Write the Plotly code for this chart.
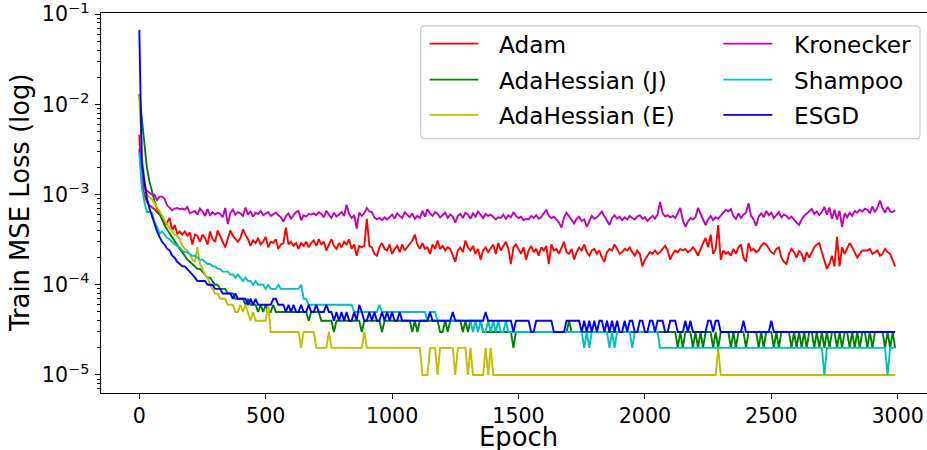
import plotly.graph_objects as go

# ---------------------------------------------------------------------------
# Training loss (MSE) logged every 10 epochs
# ---------------------------------------------------------------------------
epochs = list(range(0, 3000, 10))

adam = [
    4.6e-3, 1.3e-3, 1.0e-3, 8.3e-4, 7.6e-4, 7.3e-4, 6.9e-4, 6.4e-4, 6.0e-4, 5.8e-4,
    4.6e-4, 4.9e-4, 5.5e-4, 4.0e-4, 4.6e-4, 3.7e-4, 3.9e-4, 3.6e-4, 3.9e-4, 3.5e-4,
    3.8e-4, 2.8e-4, 3.6e-4, 3.5e-4, 3.0e-4, 3.6e-4, 3.3e-4, 2.8e-4, 3.9e-4, 3.2e-4,
    3.0e-4, 4.0e-4, 3.4e-4, 3.0e-4, 2.6e-4, 3.2e-4, 4.0e-4, 3.5e-4, 3.2e-4, 3.0e-4,
    3.3e-4, 4.1e-4, 3.6e-4, 3.2e-4, 2.7e-4, 3.1e-4, 2.9e-4, 3.3e-4, 2.8e-4, 3.0e-4,
    3.4e-4, 2.6e-4, 3.0e-4, 2.9e-4, 3.2e-4, 2.5e-4, 2.8e-4, 2.9e-4, 4.3e-4, 2.8e-4,
    3.0e-4, 2.7e-4, 2.9e-4, 2.5e-4, 2.9e-4, 2.7e-4, 3.0e-4, 2.6e-4, 2.9e-4, 3.1e-4,
    2.7e-4, 3.2e-4, 2.8e-4, 3.0e-4, 2.4e-4, 2.8e-4, 3.2e-4, 2.7e-4, 2.5e-4, 2.9e-4,
    2.6e-4, 3.0e-4, 2.8e-4, 3.2e-4, 2.5e-4, 2.8e-4, 2.1e-4, 2.7e-4, 2.6e-4, 2.7e-4,
    5.4e-4, 2.7e-4, 2.6e-4, 2.2e-4, 2.1e-4, 2.6e-4, 2.9e-4, 2.5e-4, 2.4e-4, 2.8e-4,
    2.2e-4, 2.5e-4, 2.7e-4, 2.3e-4, 2.8e-4, 2.4e-4, 2.6e-4, 2.9e-4, 3.1e-4, 3.6e-4,
    2.8e-4, 2.5e-4, 2.9e-4, 2.5e-4, 2.6e-4, 2.2e-4, 2.8e-4, 2.5e-4, 3.1e-4, 2.5e-4,
    2.7e-4, 2.4e-4, 2.6e-4, 2.5e-4, 2.1e-4, 1.8e-4, 2.4e-4, 2.6e-4, 2.3e-4, 3.1e-4,
    2.6e-4, 2.4e-4, 2.7e-4, 2.2e-4, 2.5e-4, 1.9e-4, 2.4e-4, 2.6e-4, 2.3e-4, 2.5e-4,
    2.8e-4, 2.2e-4, 2.9e-4, 2.4e-4, 2.7e-4, 3.0e-4, 2.5e-4, 1.7e-4, 2.6e-4, 2.8e-4,
    2.5e-4, 2.2e-4, 2.6e-4, 1.9e-4, 2.4e-4, 2.7e-4, 2.3e-4, 2.5e-4, 2.1e-4, 2.6e-4,
    2.4e-4, 2.7e-4, 1.7e-4, 2.8e-4, 2.4e-4, 2.5e-4, 2.2e-4, 2.6e-4, 3.0e-4, 2.3e-4,
    2.2e-4, 2.5e-4, 1.9e-4, 2.3e-4, 2.6e-4, 2.4e-4, 2.8e-4, 2.3e-4, 2.1e-4, 2.4e-4,
    2.5e-4, 2.2e-4, 2.4e-4, 2.0e-4, 1.8e-4, 2.3e-4, 2.5e-4, 2.4e-4, 2.8e-4, 2.5e-4,
    2.2e-4, 2.3e-4, 2.5e-4, 2.4e-4, 2.6e-4, 2.3e-4, 2.1e-4, 2.4e-4, 2.2e-4, 1.6e-4,
    1.9e-4, 2.1e-4, 2.3e-4, 2.2e-4, 2.4e-4, 2.2e-4, 2.3e-4, 2.5e-4, 2.7e-4, 2.4e-4,
    1.9e-4, 2.2e-4, 2.4e-4, 2.3e-4, 2.5e-4, 2.4e-4, 2.5e-4, 2.3e-4, 2.4e-4, 2.6e-4,
    2.4e-4, 2.1e-4, 2.5e-4, 2.9e-4, 3.3e-4, 2.6e-4, 3.6e-4, 2.2e-4, 2.5e-4, 4.6e-4,
    1.9e-4, 2.4e-4, 2.2e-4, 2.3e-4, 2.1e-4, 2.5e-4, 2.2e-4, 2.6e-4, 2.8e-4, 2.0e-4,
    1.8e-4, 2.9e-4, 2.4e-4, 2.5e-4, 2.3e-4, 2.4e-4, 2.7e-4, 2.9e-4, 2.8e-4, 2.5e-4,
    2.3e-4, 2.2e-4, 2.5e-4, 2.6e-4, 2.0e-4, 1.8e-4, 1.7e-4, 2.2e-4, 2.5e-4, 2.3e-4,
    2.0e-4, 2.4e-4, 2.2e-4, 1.8e-4, 2.3e-4, 2.0e-4, 2.3e-4, 2.6e-4, 2.8e-4, 2.9e-4,
    2.3e-4, 1.9e-4, 1.5e-4, 1.7e-4, 2.1e-4, 1.6e-4, 3.4e-4, 1.6e-4, 2.6e-4, 2.2e-4,
    2.5e-4, 2.9e-4, 2.6e-4, 2.3e-4, 2.0e-4, 2.2e-4, 2.4e-4, 2.4e-4, 2.4e-4, 2.5e-4,
    2.2e-4, 2.3e-4, 2.4e-4, 2.1e-4, 2.2e-4, 2.5e-4, 2.3e-4, 2.2e-4, 1.9e-4, 1.6e-4,
]

adahessian_j = [
    1.3e-2, 6.5e-3, 3.5e-3, 2.0e-3, 1.4e-3, 1.05e-3, 8.5e-4, 7.0e-4, 6.0e-4, 5.3e-4,
    4.6e-4, 4.1e-4, 3.7e-4, 3.4e-4, 3.1e-4, 2.7e-4, 2.5e-4, 2.3e-4, 2.1e-4, 1.9e-4,
    1.8e-4, 1.7e-4, 1.6e-4, 1.5e-4, 1.5e-4, 1.4e-4, 1.3e-4, 1.2e-4, 1.2e-4, 1.1e-4,
    1.0e-4, 1.0e-4, 9e-5, 9e-5, 9e-5, 8e-5, 8e-5, 8e-5, 7e-5, 7e-5,
    7e-5, 7e-5, 6e-5, 7e-5, 6e-5, 6e-5, 6e-5, 5e-5, 6e-5, 5e-5,
    6e-5, 5e-5, 5e-5, 6e-5, 5e-5, 5e-5, 5e-5, 5e-5, 5e-5, 5e-5,
    5e-5, 5e-5, 5e-5, 5e-5, 5e-5, 5e-5, 5e-5, 4e-5, 5e-5, 5e-5,
    5e-5, 5e-5, 4e-5, 4e-5, 4e-5, 4e-5, 4e-5, 3e-5, 4e-5, 4e-5,
    4e-5, 4e-5, 4e-5, 4e-5, 4e-5, 4e-5, 4e-5, 4e-5, 3e-5, 4e-5,
    4e-5, 4e-5, 4e-5, 4e-5, 4e-5, 4e-5, 3e-5, 4e-5, 4e-5, 4e-5,
    4e-5, 4e-5, 4e-5, 4e-5, 4e-5, 4e-5, 4e-5, 4e-5, 3e-5, 4e-5,
    3e-5, 4e-5, 4e-5, 4e-5, 4e-5, 4e-5, 4e-5, 4e-5, 4e-5, 3e-5,
    3e-5, 4e-5, 3e-5, 4e-5, 4e-5, 4e-5, 4e-5, 4e-5, 3e-5, 4e-5,
    3e-5, 4e-5, 4e-5, 4e-5, 4e-5, 4e-5, 3e-5, 3e-5, 3e-5, 3e-5,
    3e-5, 3e-5, 3e-5, 3e-5, 3e-5, 3e-5, 3e-5, 3e-5, 2e-5, 3e-5,
    3e-5, 3e-5, 3e-5, 3e-5, 3e-5, 3e-5, 3e-5, 3e-5, 3e-5, 3e-5,
    3e-5, 3e-5, 3e-5, 3e-5, 3e-5, 3e-5, 3e-5, 3e-5, 3e-5, 3e-5,
    4e-5, 3e-5, 3e-5, 3e-5, 3e-5, 3e-5, 3e-5, 3e-5, 3e-5, 3e-5,
    3e-5, 3e-5, 3e-5, 3e-5, 3e-5, 3e-5, 3e-5, 3e-5, 3e-5, 3e-5,
    3e-5, 3e-5, 3e-5, 3e-5, 3e-5, 3e-5, 3e-5, 3e-5, 3e-5, 3e-5,
    3e-5, 3e-5, 3e-5, 3e-5, 3e-5, 3e-5, 3e-5, 3e-5, 3e-5, 3e-5,
    3e-5, 3e-5, 3e-5, 2e-5, 3e-5, 2e-5, 3e-5, 3e-5, 3e-5, 2e-5,
    3e-5, 2e-5, 3e-5, 2e-5, 3e-5, 3e-5, 3e-5, 2e-5, 3e-5, 2e-5,
    3e-5, 3e-5, 3e-5, 3e-5, 2e-5, 3e-5, 2e-5, 3e-5, 3e-5, 3e-5,
    2e-5, 3e-5, 3e-5, 3e-5, 3e-5, 2e-5, 3e-5, 2e-5, 3e-5, 3e-5,
    3e-5, 2e-5, 3e-5, 2e-5, 3e-5, 3e-5, 3e-5, 3e-5, 2e-5, 3e-5,
    2e-5, 3e-5, 2e-5, 3e-5, 2e-5, 3e-5, 3e-5, 2e-5, 3e-5, 2e-5,
    3e-5, 2e-5, 3e-5, 2e-5, 3e-5, 3e-5, 2e-5, 3e-5, 2e-5, 3e-5,
    3e-5, 2e-5, 3e-5, 2e-5, 3e-5, 2e-5, 3e-5, 3e-5, 2e-5, 3e-5,
    2e-5, 3e-5, 3e-5, 3e-5, 3e-5, 2e-5, 3e-5, 2e-5, 3e-5, 2e-5,
]

adahessian_e = [
    1.27e-2, 2.7e-3, 1.5e-3, 1.0e-3, 9.3e-4, 8.8e-4, 8.0e-4, 7.3e-4, 6.6e-4, 5.9e-4,
    5.2e-4, 4.6e-4, 4.2e-4, 4.0e-4, 3.6e-4, 3.5e-4, 3.2e-4, 2.7e-4, 2.5e-4, 2.4e-4,
    2.2e-4, 1.9e-4, 1.8e-4, 2.6e-4, 1.7e-4, 1.5e-4, 1.3e-4, 1.2e-4, 1.0e-4, 9e-5,
    8e-5, 8e-5, 7e-5, 7e-5, 7e-5, 6e-5, 6e-5, 6e-5, 5e-5, 5e-5,
    6e-5, 5e-5, 6e-5, 5e-5, 4e-5, 5e-5, 4e-5, 4e-5, 4e-5, 4e-5,
    4e-5, 6e-5, 3e-5, 3e-5, 3e-5, 3e-5, 3e-5, 3e-5, 3e-5, 3e-5,
    3e-5, 3e-5, 3e-5, 3e-5, 2e-5, 3e-5, 3e-5, 3e-5, 3e-5, 3e-5,
    2e-5, 2e-5, 2e-5, 2e-5, 2e-5, 3e-5, 2e-5, 2e-5, 2e-5, 2e-5,
    2e-5, 2e-5, 2e-5, 2e-5, 2e-5, 2e-5, 2e-5, 2e-5, 2e-5, 3e-5,
    2e-5, 2e-5, 2e-5, 2e-5, 2e-5, 2e-5, 2e-5, 2e-5, 2e-5, 2e-5,
    2e-5, 2e-5, 2e-5, 2e-5, 2e-5, 2e-5, 2e-5, 2e-5, 2e-5, 2e-5,
    2e-5, 2e-5, 1e-5, 1e-5, 1e-5, 2e-5, 2e-5, 2e-5, 1e-5, 2e-5,
    2e-5, 2e-5, 2e-5, 2e-5, 2e-5, 1e-5, 2e-5, 2e-5, 2e-5, 2e-5,
    1e-5, 2e-5, 1e-5, 1e-5, 1e-5, 1e-5, 1e-5, 2e-5, 1e-5, 2e-5,
    1e-5, 1e-5, 1e-5, 1e-5, 1e-5, 1e-5, 1e-5, 1e-5, 1e-5, 1e-5,
    1e-5, 1e-5, 1e-5, 1e-5, 1e-5, 1e-5, 1e-5, 1e-5, 1e-5, 1e-5,
    1e-5, 1e-5, 1e-5, 1e-5, 1e-5, 1e-5, 1e-5, 1e-5, 1e-5, 1e-5,
    1e-5, 1e-5, 1e-5, 1e-5, 1e-5, 1e-5, 1e-5, 1e-5, 1e-5, 1e-5,
    1e-5, 1e-5, 1e-5, 1e-5, 1e-5, 1e-5, 1e-5, 1e-5, 1e-5, 1e-5,
    1e-5, 1e-5, 1e-5, 1e-5, 1e-5, 1e-5, 1e-5, 1e-5, 1e-5, 1e-5,
    1e-5, 1e-5, 1e-5, 1e-5, 1e-5, 1e-5, 1e-5, 1e-5, 1e-5, 1e-5,
    1e-5, 1e-5, 1e-5, 1e-5, 1e-5, 1e-5, 1e-5, 1e-5, 1e-5, 1e-5,
    1e-5, 1e-5, 1e-5, 1e-5, 1e-5, 1e-5, 1e-5, 1e-5, 1e-5, 2e-5,
    1e-5, 1e-5, 1e-5, 1e-5, 1e-5, 1e-5, 1e-5, 1e-5, 1e-5, 1e-5,
    1e-5, 1e-5, 1e-5, 1e-5, 1e-5, 1e-5, 1e-5, 1e-5, 1e-5, 1e-5,
    1e-5, 1e-5, 1e-5, 1e-5, 1e-5, 1e-5, 1e-5, 1e-5, 1e-5, 1e-5,
    1e-5, 1e-5, 1e-5, 1e-5, 1e-5, 1e-5, 1e-5, 1e-5, 1e-5, 1e-5,
    1e-5, 1e-5, 1e-5, 1e-5, 1e-5, 1e-5, 1e-5, 1e-5, 1e-5, 1e-5,
    1e-5, 1e-5, 1e-5, 1e-5, 1e-5, 1e-5, 1e-5, 1e-5, 1e-5, 1e-5,
    1e-5, 1e-5, 1e-5, 1e-5, 1e-5, 1e-5, 1e-5, 1e-5, 1e-5, 1e-5,
]

kronecker = [
    3.2e-3, 1.6e-3, 1.17e-3, 1.1e-3, 1.05e-3, 1.0e-3, 1.0e-3, 8.7e-4, 9.5e-4, 9.5e-4,
    9.0e-4, 7.6e-4, 7.1e-4, 6.7e-4, 7.0e-4, 7.1e-4, 6.9e-4, 7.0e-4, 6.8e-4, 7.3e-4,
    6.2e-4, 6.4e-4, 6.6e-4, 6.0e-4, 7.0e-4, 6.5e-4, 5.8e-4, 6.9e-4, 5.9e-4, 6.4e-4,
    6.0e-4, 6.3e-4, 6.1e-4, 5.6e-4, 7.1e-4, 4.7e-4, 6.2e-4, 6.8e-4, 6.0e-4, 6.4e-4,
    6.2e-4, 5.8e-4, 7.2e-4, 6.0e-4, 6.5e-4, 5.7e-4, 6.3e-4, 6.1e-4, 6.6e-4, 5.9e-4,
    6.2e-4, 6.4e-4, 5.8e-4, 6.0e-4, 6.3e-4, 5.9e-4, 5.6e-4, 5.0e-4, 5.8e-4, 6.2e-4,
    5.4e-4, 5.9e-4, 6.4e-4, 6.6e-4, 5.2e-4, 5.9e-4, 5.7e-4, 6.1e-4, 6.0e-4, 6.2e-4,
    5.9e-4, 6.4e-4, 6.1e-4, 5.6e-4, 6.6e-4, 6.0e-4, 5.5e-4, 6.3e-4, 5.7e-4, 6.0e-4,
    6.4e-4, 5.8e-4, 7.7e-4, 6.1e-4, 5.5e-4, 5.9e-4, 4.2e-4, 6.3e-4, 5.8e-4, 6.2e-4,
    7.1e-4, 6.5e-4, 6.4e-4, 5.6e-4, 5.3e-4, 5.5e-4, 5.2e-4, 5.6e-4, 5.3e-4, 5.6e-4,
    6.0e-4, 5.4e-4, 6.2e-4, 5.8e-4, 5.5e-4, 6.4e-4, 5.9e-4, 5.6e-4, 6.2e-4, 5.4e-4,
    5.8e-4, 5.5e-4, 6.6e-4, 5.7e-4, 6.9e-4, 6.2e-4, 5.8e-4, 6.4e-4, 6.1e-4, 5.6e-4,
    5.9e-4, 6.3e-4, 5.5e-4, 6.0e-4, 5.7e-4, 4.9e-4, 5.8e-4, 6.1e-4, 5.5e-4, 6.3e-4,
    6.0e-4, 5.4e-4, 6.2e-4, 5.7e-4, 6.5e-4, 5.9e-4, 5.5e-4, 6.1e-4, 5.8e-4, 6.0e-4,
    5.6e-4, 5.3e-4, 5.6e-4, 5.5e-4, 6.0e-4, 5.4e-4, 5.9e-4, 5.6e-4, 6.4e-4, 5.8e-4,
    5.5e-4, 5.7e-4, 5.2e-4, 5.4e-4, 5.3e-4, 5.8e-4, 5.5e-4, 5.9e-4, 5.4e-4, 5.6e-4,
    6.2e-4, 6.8e-4, 5.8e-4, 5.5e-4, 5.7e-4, 5.3e-4, 4.9e-4, 4.3e-4, 5.6e-4, 6.3e-4,
    5.7e-4, 5.2e-4, 4.8e-4, 5.4e-4, 5.7e-4, 5.1e-4, 5.3e-4, 4.4e-4, 5.0e-4, 5.8e-4,
    5.4e-4, 5.6e-4, 6.0e-4, 6.5e-4, 5.7e-4, 5.2e-4, 4.6e-4, 5.5e-4, 5.9e-4, 5.4e-4,
    5.7e-4, 5.2e-4, 5.6e-4, 5.3e-4, 5.8e-4, 5.5e-4, 5.3e-4, 5.7e-4, 5.9e-4, 5.4e-4,
    5.6e-4, 5.1e-4, 5.5e-4, 5.8e-4, 5.4e-4, 6.0e-4, 8.3e-4, 6.2e-4, 5.7e-4, 5.9e-4,
    5.6e-4, 5.8e-4, 5.5e-4, 6.4e-4, 7.1e-4, 5.2e-4, 4.4e-4, 5.0e-4, 5.5e-4, 5.3e-4,
    5.6e-4, 7.1e-4, 6.2e-4, 5.5e-4, 4.6e-4, 5.3e-4, 5.8e-4, 5.2e-4, 5.6e-4, 5.4e-4,
    5.9e-4, 6.3e-4, 6.8e-4, 6.5e-4, 6.9e-4, 5.8e-4, 5.4e-4, 6.2e-4, 5.5e-4, 6.0e-4,
    6.3e-4, 8.0e-4, 5.8e-4, 5.3e-4, 4.5e-4, 5.7e-4, 6.2e-4, 5.6e-4, 6.6e-4, 5.9e-4,
    6.3e-4, 5.5e-4, 5.9e-4, 6.4e-4, 5.6e-4, 6.0e-4, 5.8e-4, 5.4e-4, 5.7e-4, 5.2e-4,
    4.9e-4, 4.6e-4, 5.3e-4, 5.8e-4, 6.2e-4, 6.6e-4, 6.9e-4, 6.1e-4, 6.5e-4, 5.9e-4,
    6.4e-4, 7.3e-4, 6.0e-4, 7.2e-4, 5.4e-4, 6.8e-4, 5.3e-4, 6.6e-4, 4.4e-4, 6.2e-4,
    5.6e-4, 6.3e-4, 5.8e-4, 6.6e-4, 6.3e-4, 6.8e-4, 6.5e-4, 7.0e-4, 6.8e-4, 6.2e-4,
    7.4e-4, 6.4e-4, 7.2e-4, 8.6e-4, 7.1e-4, 6.3e-4, 7.3e-4, 6.5e-4, 6.4e-4, 6.7e-4,
]

shampoo = [
    2.9e-3, 1.2e-3, 8.3e-4, 6.4e-4, 6.4e-4, 6.3e-4, 5.0e-4, 4.4e-4, 3.7e-4, 3.9e-4,
    3.6e-4, 3.3e-4, 3.2e-4, 3.0e-4, 2.8e-4, 2.7e-4, 2.6e-4, 2.4e-4, 2.3e-4, 2.3e-4,
    2.2e-4, 2.1e-4, 2.1e-4, 2.0e-4, 1.9e-4, 1.9e-4, 1.8e-4, 1.7e-4, 1.7e-4, 1.6e-4,
    1.6e-4, 1.5e-4, 1.5e-4, 1.4e-4, 1.4e-4, 1.4e-4, 1.3e-4, 1.3e-4, 1.2e-4, 1.3e-4,
    1.2e-4, 1.1e-4, 1.2e-4, 1.1e-4, 1.1e-4, 1.0e-4, 1.1e-4, 1.0e-4, 1.0e-4, 1.0e-4,
    9e-5, 1.0e-4, 9e-5, 9e-5, 9e-5, 1.0e-4, 9e-5, 9e-5, 9e-5, 9e-5,
    9e-5, 9e-5, 9e-5, 9e-5, 1.0e-4, 7e-5, 7e-5, 6e-5, 6e-5, 6e-5,
    6e-5, 6e-5, 6e-5, 6e-5, 6e-5, 6e-5, 6e-5, 6e-5, 6e-5, 6e-5,
    6e-5, 6e-5, 6e-5, 6e-5, 6e-5, 5e-5, 5e-5, 5e-5, 5e-5, 5e-5,
    5e-5, 5e-5, 5e-5, 5e-5, 5e-5, 6e-5, 5e-5, 5e-5, 5e-5, 5e-5,
    5e-5, 5e-5, 5e-5, 5e-5, 5e-5, 5e-5, 5e-5, 5e-5, 5e-5, 5e-5,
    5e-5, 5e-5, 5e-5, 5e-5, 4e-5, 5e-5, 5e-5, 5e-5, 4e-5, 4e-5,
    4e-5, 4e-5, 4e-5, 4e-5, 4e-5, 4e-5, 4e-5, 4e-5, 4e-5, 4e-5,
    4e-5, 4e-5, 3e-5, 4e-5, 3e-5, 4e-5, 3e-5, 3e-5, 4e-5, 3e-5,
    4e-5, 3e-5, 4e-5, 3e-5, 3e-5, 4e-5, 3e-5, 3e-5, 3e-5, 3e-5,
    3e-5, 3e-5, 3e-5, 3e-5, 3e-5, 3e-5, 3e-5, 3e-5, 3e-5, 3e-5,
    3e-5, 3e-5, 3e-5, 3e-5, 3e-5, 3e-5, 3e-5, 3e-5, 3e-5, 3e-5,
    3e-5, 3e-5, 3e-5, 3e-5, 3e-5, 3e-5, 2e-5, 3e-5, 2e-5, 3e-5,
    3e-5, 3e-5, 3e-5, 3e-5, 3e-5, 3e-5, 2e-5, 3e-5, 2e-5, 3e-5,
    3e-5, 3e-5, 3e-5, 3e-5, 3e-5, 2e-5, 3e-5, 3e-5, 3e-5, 3e-5,
    3e-5, 3e-5, 3e-5, 3e-5, 3e-5, 3e-5, 2e-5, 2e-5, 2e-5, 2e-5,
    2e-5, 2e-5, 2e-5, 2e-5, 2e-5, 2e-5, 2e-5, 2e-5, 2e-5, 2e-5,
    2e-5, 2e-5, 2e-5, 2e-5, 2e-5, 2e-5, 2e-5, 2e-5, 2e-5, 2e-5,
    2e-5, 2e-5, 2e-5, 2e-5, 2e-5, 2e-5, 2e-5, 2e-5, 2e-5, 2e-5,
    2e-5, 2e-5, 2e-5, 2e-5, 2e-5, 2e-5, 2e-5, 2e-5, 2e-5, 2e-5,
    2e-5, 2e-5, 2e-5, 2e-5, 2e-5, 2e-5, 2e-5, 2e-5, 2e-5, 2e-5,
    2e-5, 2e-5, 2e-5, 2e-5, 2e-5, 2e-5, 2e-5, 2e-5, 2e-5, 2e-5,
    2e-5, 1e-5, 2e-5, 2e-5, 2e-5, 2e-5, 2e-5, 2e-5, 2e-5, 2e-5,
    2e-5, 2e-5, 2e-5, 2e-5, 2e-5, 2e-5, 2e-5, 2e-5, 2e-5, 2e-5,
    2e-5, 2e-5, 2e-5, 2e-5, 2e-5, 2e-5, 1e-5, 2e-5, 2e-5, 2e-5,
]

esgd = [
    6.7e-2, 2.3e-3, 1.4e-3, 9.1e-4, 7.1e-4, 5.7e-4, 4.6e-4, 3.9e-4, 3.4e-4, 3.0e-4,
    2.8e-4, 2.5e-4, 2.4e-4, 2.1e-4, 2.0e-4, 1.8e-4, 1.7e-4, 1.6e-4, 1.6e-4, 1.5e-4,
    1.4e-4, 1.3e-4, 1.2e-4, 1.1e-4, 1.1e-4, 1.1e-4, 1.1e-4, 1.0e-4, 1.0e-4, 1.0e-4,
    9e-5, 9e-5, 9e-5, 8e-5, 8e-5, 8e-5, 8e-5, 7e-5, 8e-5, 7e-5,
    7e-5, 7e-5, 7e-5, 6e-5, 7e-5, 6e-5, 7e-5, 6e-5, 6e-5, 6e-5,
    6e-5, 6e-5, 6e-5, 7e-5, 7e-5, 6e-5, 6e-5, 6e-5, 5e-5, 6e-5,
    5e-5, 6e-5, 5e-5, 5e-5, 6e-5, 5e-5, 5e-5, 6e-5, 5e-5, 5e-5,
    6e-5, 5e-5, 5e-5, 5e-5, 6e-5, 5e-5, 5e-5, 4e-5, 5e-5, 4e-5,
    5e-5, 4e-5, 5e-5, 4e-5, 4e-5, 5e-5, 4e-5, 6e-5, 5e-5, 4e-5,
    4e-5, 5e-5, 4e-5, 5e-5, 4e-5, 4e-5, 5e-5, 4e-5, 5e-5, 4e-5,
    5e-5, 4e-5, 4e-5, 5e-5, 4e-5, 4e-5, 4e-5, 4e-5, 4e-5, 4e-5,
    4e-5, 4e-5, 4e-5, 4e-5, 4e-5, 5e-5, 4e-5, 4e-5, 4e-5, 4e-5,
    4e-5, 4e-5, 4e-5, 4e-5, 5e-5, 4e-5, 4e-5, 4e-5, 4e-5, 4e-5,
    4e-5, 4e-5, 4e-5, 4e-5, 4e-5, 4e-5, 4e-5, 5e-5, 4e-5, 4e-5,
    4e-5, 4e-5, 4e-5, 4e-5, 4e-5, 4e-5, 4e-5, 4e-5, 3e-5, 4e-5,
    4e-5, 4e-5, 4e-5, 4e-5, 4e-5, 3e-5, 3e-5, 4e-5, 4e-5, 4e-5,
    4e-5, 4e-5, 4e-5, 4e-5, 3e-5, 3e-5, 3e-5, 3e-5, 3e-5, 4e-5,
    4e-5, 4e-5, 4e-5, 4e-5, 4e-5, 3e-5, 4e-5, 3e-5, 4e-5, 3e-5,
    4e-5, 3e-5, 4e-5, 4e-5, 3e-5, 4e-5, 3e-5, 4e-5, 3e-5, 4e-5,
    3e-5, 3e-5, 4e-5, 3e-5, 4e-5, 4e-5, 3e-5, 3e-5, 4e-5, 4e-5,
    3e-5, 3e-5, 4e-5, 4e-5, 3e-5, 4e-5, 4e-5, 4e-5, 3e-5, 3e-5,
    4e-5, 4e-5, 4e-5, 3e-5, 3e-5, 3e-5, 4e-5, 3e-5, 4e-5, 3e-5,
    3e-5, 3e-5, 3e-5, 3e-5, 3e-5, 4e-5, 4e-5, 3e-5, 4e-5, 4e-5,
    3e-5, 3e-5, 3e-5, 3e-5, 3e-5, 3e-5, 3e-5, 3e-5, 3e-5, 4e-5,
    3e-5, 3e-5, 3e-5, 3e-5, 3e-5, 3e-5, 3e-5, 3e-5, 3e-5, 3e-5,
    4e-5, 3e-5, 3e-5, 3e-5, 3e-5, 3e-5, 3e-5, 3e-5, 3e-5, 3e-5,
    3e-5, 3e-5, 3e-5, 3e-5, 3e-5, 3e-5, 3e-5, 3e-5, 3e-5, 3e-5,
    3e-5, 3e-5, 3e-5, 3e-5, 3e-5, 3e-5, 3e-5, 3e-5, 3e-5, 3e-5,
    3e-5, 3e-5, 3e-5, 3e-5, 3e-5, 3e-5, 3e-5, 3e-5, 3e-5, 3e-5,
    3e-5, 3e-5, 3e-5, 3e-5, 3e-5, 3e-5, 3e-5, 3e-5, 3e-5, 3e-5,
]

series_names = ["Adam", "AdaHessian (J)", "AdaHessian (E)", "Kronecker", "Shampoo", "ESGD"]
series_values = [adam, adahessian_j, adahessian_e, kronecker, shampoo, esgd]
series_colors = ["#ff0000", "#008000", "#bfbf00", "#bf00bf", "#00bfbf", "#0000ff"]

x_tick_values = [0, 500, 1000, 1500, 2000, 2500, 3000]
y_tick_values = [1e-5, 1e-4, 1e-3, 1e-2, 1e-1]
y_tick_labels = ["10<sup>\u22125</sup>", "10<sup>\u22124</sup>", "10<sup>\u22123</sup>",
                 "10<sup>\u22122</sup>", "10<sup>\u22121</sup>"]

for vals in series_values:
    assert len(vals) == len(epochs)

# ---------------------------------------------------------------------------
# Geometry (pixels)
# ---------------------------------------------------------------------------
W, H = 927, 450
ML, MR, MT, MB = 101, 0, 13, 57
PW, PH = W - ML - MR, H - MT - MB
FONT = "DejaVu Sans"


def px(x):
    return (x - ML) / PW


def py(y):
    return (H - MB - y) / PH


fig = go.Figure()
for name, vals, color in zip(series_names, series_values, series_colors):
    fig.add_trace(go.Scatter(
        x=epochs, y=vals, name=name, mode="lines",
        line=dict(color=color, width=1.9),
        showlegend=False,
    ))

# minor log ticks (2..9 in every decade that falls inside the axis)
minor_vals = [m * 10.0 ** k for k in range(-6, 0) for m in range(2, 10)]
minor_vals = [v for v in minor_vals if 10 ** -5.2 < v < 10 ** -0.987]

axis_common = dict(
    showline=True, linecolor="black", linewidth=1.1,
    ticks="outside", ticklen=4.5, tickwidth=1.1, tickcolor="black",
    showgrid=False, zeroline=False,
    ticklabeloverflow="allow",
    tickfont=dict(family=FONT, size=20.6, color="black"),
)

fig.update_xaxes(
    range=[-151.5, -151.5 + PW / 0.2528],
    tickmode="array", tickvals=x_tick_values,
    mirror=True,
    **axis_common,
)
fig.update_yaxes(
    type="log",
    range=[-5.1996, -0.987],
    tickmode="array", tickvals=y_tick_values, ticktext=y_tick_labels,
    minor=dict(tickmode="array", tickvals=minor_vals, ticks="outside",
               ticklen=2.6, tickwidth=0.8, tickcolor="black", showgrid=False),
    ticklabelstandoff=2,
    **axis_common,
)

annotations = [
    dict(text="Epoch", x=px(518.4), y=py(437), xref="paper", yref="paper",
         xanchor="center", yanchor="middle", showarrow=False,
         font=dict(family=FONT, size=25.8, color="black")),
    dict(text="Train MSE Loss (log)", x=px(20), y=py(203), xref="paper", yref="paper",
         xanchor="center", yanchor="middle", textangle=-90, showarrow=False,
         font=dict(family=FONT, size=25.8, color="black")),
]

# legend frame with rounded corners
bx0, by0, bx1, by1, r = 420.8, 25.8, 920.0, 138.7, 4.0
pts = [
    ("M", [(bx0 + r, by0)]), ("L", [(bx1 - r, by0)]), ("Q", [(bx1, by0), (bx1, by0 + r)]),
    ("L", [(bx1, by1 - r)]), ("Q", [(bx1, by1), (bx1 - r, by1)]),
    ("L", [(bx0 + r, by1)]), ("Q", [(bx0, by1), (bx0, by1 - r)]),
    ("L", [(bx0, by0 + r)]), ("Q", [(bx0, by0), (bx0 + r, by0)]),
]
path = " ".join(cmd + " " + " ".join(f"{px(a):.5f},{py(b):.5f}" for a, b in coords)
                for cmd, coords in pts) + " Z"
shapes = [dict(type="path", path=path, xref="paper", yref="paper",
               fillcolor="rgba(255,255,255,0.8)",
               line=dict(color="#cccccc", width=1.2), layer="above")]

row_y = [43.6, 79.6, 114.9]
handle_x = [(429.6, 478.3), (723.4, 772.4)]
text_x = [497.5, 792.6]
for k, (name, color) in enumerate(zip(series_names, series_colors)):
    col, row = k // 3, k % 3
    hx0, hx1 = handle_x[col]
    shapes.append(dict(type="line", xref="paper", yref="paper",
                       x0=px(hx0), x1=px(hx1), y0=py(row_y[row]), y1=py(row_y[row]),
                       line=dict(color=color, width=1.9), layer="above"))
    annotations.append(dict(text=name, x=px(text_x[col]), y=py(row_y[row] + 1),
                            xref="paper", yref="paper", xanchor="left", yanchor="middle",
                            showarrow=False, borderpad=0,
                            font=dict(family=FONT, size=23.2, color="black")))

fig.update_layout(
    width=W, height=H,
    margin=dict(l=ML, r=MR, t=MT, b=MB, pad=0),
    paper_bgcolor="white", plot_bgcolor="white",
    font=dict(family=FONT, color="black"),
    showlegend=False,
    annotations=annotations,
    shapes=shapes,
)

fig.write_html("out.html")
